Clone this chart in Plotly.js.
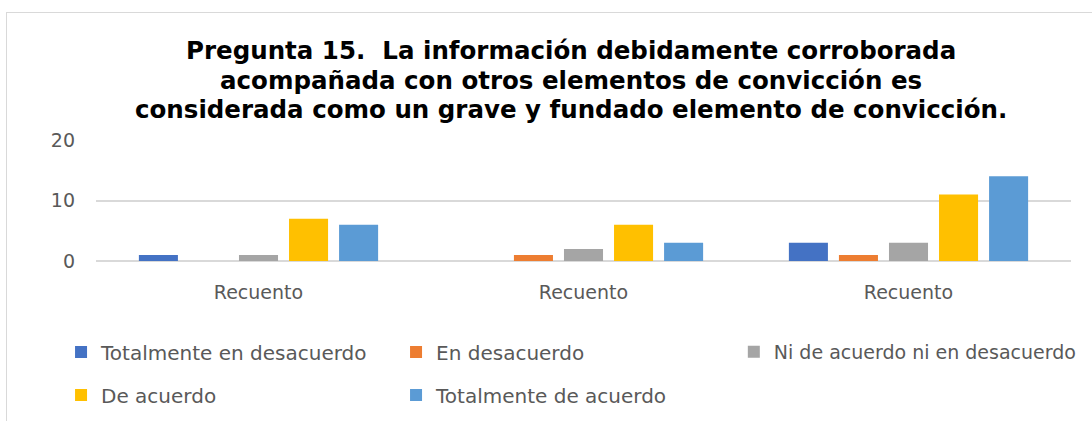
<!DOCTYPE html>
<html>
<head>
<meta charset="utf-8">
<script src="https://cdn.plot.ly/plotly-3.0.1.min.js"></script>
<style>
  html, body { margin: 0; padding: 0; background: #ffffff; overflow: hidden; }
  #chart { position: absolute; left: 0; top: 0; width: 1092px; height: 421px; }
  #frame { position: absolute; left: 6px; top: 12px; width: 3000px; height: 3000px;
           border-left: 1px solid #d9d9d9; border-top: 1px solid #d9d9d9; pointer-events: none; }
</style>
</head>
<body>
<div id="chart"></div>
<div id="frame"></div>
<script>
// ---- data ----
const groupPositions = [0, 1, 2];
const groupLabels = ["Recuento", "Recuento", "Recuento"];
const seriesNames = [
  "Totalmente en desacuerdo",
  "En desacuerdo",
  "Ni de acuerdo ni en desacuerdo",
  "De acuerdo",
  "Totalmente de acuerdo"
];
const totalmenteEnDesacuerdo = [1, 0, 3];
const enDesacuerdo = [0, 1, 1];
const niDeAcuerdoNiEnDesacuerdo = [1, 2, 3];
const deAcuerdo = [7, 6, 11];
const totalmenteDeAcuerdo = [6, 3, 14];
const yTickValues = [0, 10, 20];
const titleLines = [
  "Pregunta 15.\u00a0 La información debidamente corroborada",
  "acompañada con otros elementos de convicción es",
  "considerada como un grave y fundado elemento de convicción."
];

// ---- styles ----
const colors = ["#4472C4", "#ED7D31", "#A5A5A5", "#FFC000", "#5B9BD5"];
const seriesValues = [totalmenteEnDesacuerdo, enDesacuerdo, niDeAcuerdoNiEnDesacuerdo, deAcuerdo, totalmenteDeAcuerdo];
const legendOf = ["legend", "legend", "legend3", "legend2", "legend2"];
const textColor = "#595959";
const fontFam = "DejaVu Sans, sans-serif";

const traces = seriesNames.map((name, i) => ({
  type: "bar",
  name: name,
  x: groupPositions,
  y: seriesValues[i],
  marker: { color: colors[i] },
  legend: legendOf[i],
  hoverinfo: "name+y"
}));

const titleY = [1.742, 1.493, 1.252];
const annotations = titleLines.map((t, i) => ({
  text: t,
  xref: "paper", yref: "paper",
  x: 0.487, y: titleY[i],
  xanchor: "center", yanchor: "middle",
  showarrow: false,
  font: { family: fontFam, size: 24.5, color: "#000000", weight: "bold" }
}));

const legendCommon = {
  orientation: "h",
  xref: "container", yref: "container",
  xanchor: "left", yanchor: "middle",
  entrywidth: 290, entrywidthmode: "pixels",
  font: { family: fontFam, size: 20, color: textColor },
  bgcolor: "rgba(0,0,0,0)",
  traceorder: "normal"
};

const layout = {
  width: 1092, height: 421,
  margin: { l: 96, r: 21, t: 140, b: 160, pad: 0 },
  paper_bgcolor: "#ffffff",
  plot_bgcolor: "#ffffff",
  barmode: "group",
  bargap: 0.23,
  bargroupgap: 0.22,
  showlegend: true,
  annotations: annotations,
  xaxis: {
    range: [-0.5, 2.5],
    tickmode: "array",
    tickvals: groupPositions,
    ticktext: groupLabels,
    showgrid: false,
    zeroline: false,
    showline: false,
    ticks: "",
    ticklabelstandoff: 18,
    tickfont: { family: fontFam, size: 19, color: textColor },
    fixedrange: true
  },
  yaxis: {
    range: [0, 20],
    tickmode: "array",
    tickvals: yTickValues,
    showgrid: true,
    gridcolor: "#d9d9d9",
    gridwidth: 1.5,
    zeroline: true,
    zerolinecolor: "#d9d9d9",
    zerolinewidth: 1.5,
    showline: false,
    ticks: "",
    ticklabelstandoff: 20,
    tickfont: { family: fontFam, size: 19, color: textColor },
    fixedrange: true
  },
  legend: Object.assign({}, legendCommon, { x: 0.0559, y: 0.164 }),
  legend3: Object.assign({}, legendCommon, { x: 0.672, y: 0.164, entrywidth: undefined, entrywidthmode: undefined,
                                             font: { family: fontFam, size: 19, color: textColor } }),
  legend2: Object.assign({}, legendCommon, { x: 0.0559, y: 0.062 })
};

Plotly.newPlot("chart", traces, layout, { displayModeBar: false, staticPlot: false });
</script>
</body>
</html>
